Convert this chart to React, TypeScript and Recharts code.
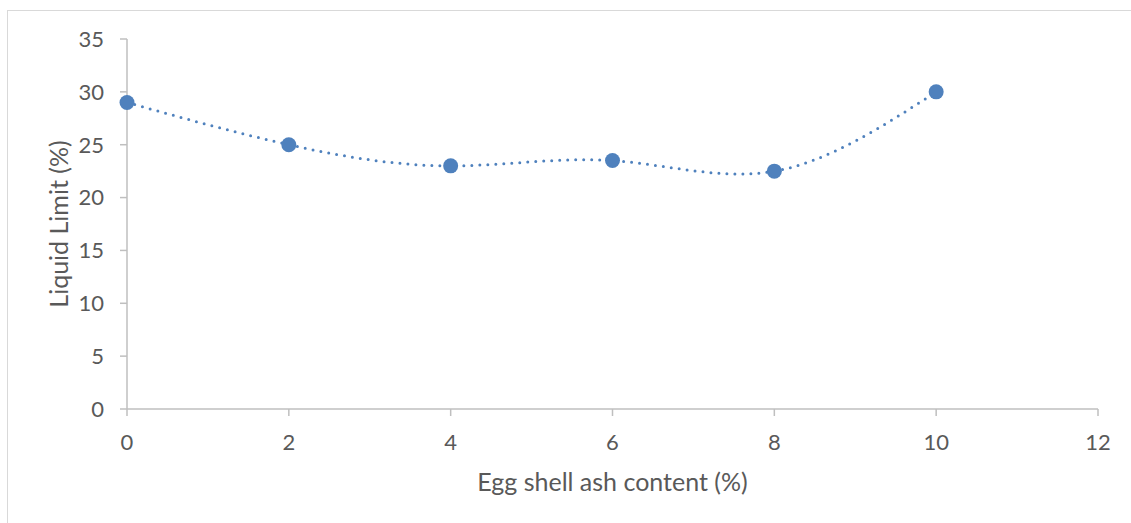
import { LineChart, Line, XAxis, YAxis } from "recharts";

const ashContent = [0, 2, 4, 6, 8, 10];
const liquidLimit = [29, 25, 23, 23.5, 22.5, 30];
const xTicks = [0, 2, 4, 6, 8, 10, 12];
const yTicks = [0, 5, 10, 15, 20, 25, 30, 35];

const data = ashContent.map((x, i) => ({ x, y: liquidLimit[i] }));

const axisColor = "#bfbfbf";
const textColor = "#595959";
const blue = "#4f81bd";
const font = "Lato, 'Open Sans', sans-serif";

export default function App() {
  return (
    <div
      style={{
        position: "fixed",
        left: 0,
        top: 0,
        width: 1131,
        height: 523,
        overflow: "hidden",
        background: "#fff",
        fontFamily: font,
      }}
    >
      <div
        style={{
          position: "absolute",
          left: 7,
          top: 10,
          width: 1200,
          height: 600,
          border: "1.5px solid #d9d9d9",
        }}
      />
      <div style={{ position: "absolute", left: 0, top: 0 }}>
        <LineChart
          width={1131}
          height={523}
          data={data}
          margin={{ top: 39, right: 33, bottom: 30, left: 67 }}
        >
          <XAxis
            dataKey="x"
            type="number"
            domain={[0, 12]}
            ticks={xTicks}
            stroke={axisColor}
            strokeWidth={1.5}
            tickSize={7}
            tickMargin={18}
            height={84}
            tick={{ fill: textColor, fontSize: 22, fontFamily: font }}
            label={{
              value: "Egg shell ash content (%)",
              position: "insideBottom",
              offset: 2,
              fill: textColor,
              fontSize: 25,
              fontFamily: font,
            }}
          />
          <YAxis
            type="number"
            domain={[0, 35]}
            ticks={yTicks}
            stroke={axisColor}
            strokeWidth={1.5}
            tickSize={7}
            tickMargin={16}
            width={60}
            tick={{ fill: textColor, fontSize: 22, fontFamily: font }}
            label={{
              value: "Liquid Limit (%)",
              angle: -90,
              position: "insideLeft",
              offset: -8,
              style: { textAnchor: "middle" },
              fill: textColor,
              fontSize: 25,
              fontFamily: font,
            }}
          />
          <Line
            dataKey="y"
            type="natural"
            stroke={blue}
            strokeWidth={3}
            strokeDasharray="0 8"
            strokeLinecap="round"
            dot={{ r: 7.5, fill: blue, stroke: blue, strokeWidth: 0 }}
            activeDot={false}
            isAnimationActive={false}
          />
        </LineChart>
      </div>
    </div>
  );
}
